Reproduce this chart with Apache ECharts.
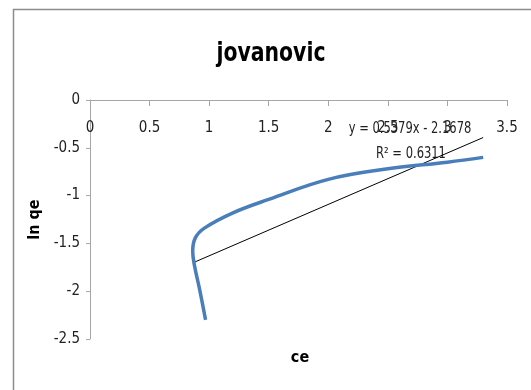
<!DOCTYPE html>
<html><head><meta charset="utf-8">
<script src="https://cdn.jsdelivr.net/npm/echarts@6/dist/echarts.min.js"></script>
<style>html,body{margin:0;padding:0;background:#fff}#c{width:531px;height:390px}</style>
</head><body><div id="c"></div>
<script>
var ceValues = [0.97, 0.92, 0.875, 0.862, 0.885, 0.96, 1.2, 1.5, 2.0, 2.5, 3.0, 3.3];
var lnqeValues = [-2.3, -1.98, -1.72, -1.58, -1.44, -1.34, -1.18, -1.04, -0.83, -0.72, -0.65, -0.6];
var slope = 0.5379, intercept = -2.1678, r2 = 0.6311;
var trendXs = [0.88, 3.3];
var xTicks = [0, 0.5, 1, 1.5, 2, 2.5, 3, 3.5];
var yTicks = [0, -0.5, -1, -1.5, -2, -2.5];

var font = '"Liberation Sans Narrow","DejaVu Sans Condensed",sans-serif';
var boldFont = '"DejaVu Sans Condensed","Liberation Sans Narrow",sans-serif';
var curve = ceValues.map(function(x,i){return [x, lnqeValues[i]];});
var trend = trendXs.map(function(x){return [x, slope*x+intercept];});

var chart = echarts.init(document.getElementById('c'));
chart.setOption({
  animation:false,
  grid:{left:90, top:100, right:24, bottom:51},
  xAxis:{type:'value', position:'top', min:xTicks[0], max:xTicks[xTicks.length-1], interval:0.5,
    axisLine:{onZero:false, lineStyle:{color:'#a6a6a6'}},
    axisTick:{inside:true, length:6, lineStyle:{color:'#a6a6a6'}},
    axisLabel:{inside:true, margin:21, fontFamily:font, fontSize:15, color:'#222'},
    splitLine:{show:false}},
  yAxis:{type:'value', min:yTicks[yTicks.length-1], max:yTicks[0], interval:0.5,
    name:'ln qe', nameLocation:'middle', nameRotate:90, nameGap:40,
    nameTextStyle:{fontFamily:boldFont, fontWeight:'bold', fontSize:16, color:'#000'},
    axisLine:{show:true, lineStyle:{color:'#a6a6a6'}},
    axisTick:{show:true, length:4, lineStyle:{color:'#a6a6a6'}},
    axisLabel:{margin:10, fontFamily:font, fontSize:15, color:'#222'},
    splitLine:{show:false}},
  graphic:[
    {type:'polyline', shape:{points:[[13.5,390],[13.5,9.5],[531,9.5]]}, style:{stroke:'#8c8c8c', lineWidth:1.5, fill:null}},
    {type:'text', x:271, y:54, scaleX:0.84, style:{text:'jovanovic', font:'bold 27px '+boldFont, fill:'#000', align:'center', verticalAlign:'middle'}},
    {type:'text', x:300, y:358, style:{text:'ce', font:'bold 16px '+boldFont, fill:'#000', align:'center', verticalAlign:'middle'}},
    {type:'text', x:410, y:129, scaleX:0.8, style:{text:'y = '+slope+'x - '+(-intercept), font:'16px '+font, fill:'#222', align:'center', verticalAlign:'middle'}},
    {type:'text', x:411, y:154, scaleX:0.8, style:{text:'R² = '+r2, font:'16px '+font, fill:'#222', align:'center', verticalAlign:'middle'}}
  ],
  series:[
    {type:'line', data:trend, symbol:'none', lineStyle:{color:'#000', width:1}, z:2},
    {type:'line', data:curve, symbol:'none', smooth:0.4, lineStyle:{color:'#4a7ebb', width:3.5}, z:3}
  ]
});
</script></body></html>
